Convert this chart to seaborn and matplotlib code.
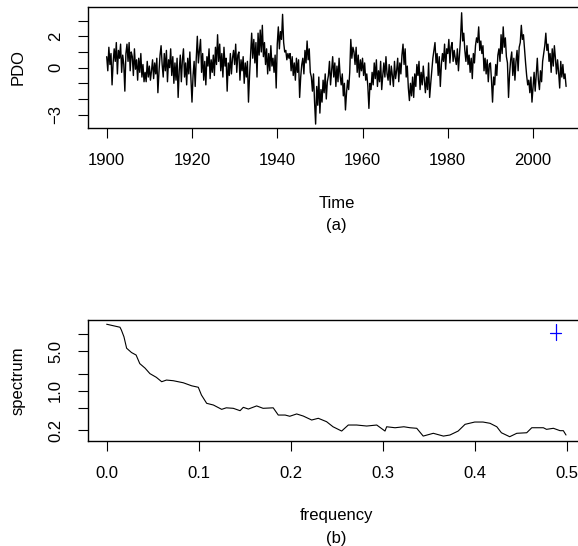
import seaborn as sns
import matplotlib.pyplot as plt
import numpy as np
import pandas as pd

# PDO index (4 values per year, 1900-2007)
pdo_start = 1900
pdo_per_year = 4
pdo = [
    0.7, -0.2, 1.3, 0.2,   0.9, -1.1, 0.3, 1.2,   0.4, 1.6, -0.4, 1.1,   0.6, 1.5, -0.3, 0.8,
    0.2, -1.5, 0.9, 1.5,   0.4, 1.6, -0.2, 1.0,   0.7, -0.5, 1.2, -0.1,  0.5, -0.8, 0.6, -0.3,
    0.9, -0.6, 0.2, -0.9,  -0.3, -0.9, 0.4, -0.6, 0.1, -0.8, -0.2, 0.5,  -0.7, 0.3, -0.4, 0.6,
    -1.6, -0.3, 0.8, 1.4,  0.2, -0.6, 0.9, -0.2,  1.1, -0.9, 0.5, 0.0,   1.2, -0.5, 0.7, -1.0,
    0.3, -0.8, 0.6, -1.9,  -0.2, 0.8, -0.9, 0.5,  1.2, -0.6, 0.3, -1.1,  0.6, -0.4, 1.0, -0.7,
    -2.2, -0.5, 0.4, -1.2, 0.6, 2.0, 0.3, 1.1,    1.8, -0.3, 0.9, -0.8,  0.4, -1.1, 0.7, 0.1,
    1.2, -0.7, 0.5, -0.3,  0.8, -0.5, 1.3, 0.2,   2.1, 0.4, 1.5, -0.2,   0.9, -0.6, 1.3, 0.1,
    0.6, -1.5, 0.3, -0.5,  0.9, -0.4, 0.6, 1.1,   0.2, 1.5, -0.3, 0.8,   1.0, -0.8, 0.5, -0.2,
    0.7, -1.0, 0.3, -0.6,  0.4, -2.2, -0.5, 0.9,  2.2, 0.6, 1.8, 0.3,    1.6, -0.6, 2.2, 0.8,
    2.4, 1.0, 2.7, 0.7,    1.6, 0.2, 1.2, -0.4,   0.9, -0.2, 1.4, 0.1,   0.6, -0.3, 0.8, -1.3,
    1.5, 2.6, 1.2, 2.3,    1.8, 3.4, 1.6, 1.0,    1.1, 0.5, 0.9, 0.6,    0.9, -0.2, 0.7, -0.5,
    0.3, -0.8, 0.6, -0.3,  0.5, -1.9, -0.6, 0.2,  0.6, -0.4, 1.1, 0.3,   1.7, 0.5, 1.2, -0.3,
    -0.6, -1.5, -0.4, -2.2, -3.6, -1.2, -2.4, -0.6, -2.9, -1.4, -2.2, -0.8, -1.6, -0.4, -2.0, -0.9,
    -0.5, 0.4, -1.1, -0.2, 0.7, -0.6, 0.3, -1.2,  0.1, -0.9, 0.6, -0.5,  -1.1, -0.4, -1.8, -1.0,
    -2.7, -1.6, -0.8, -1.4, -0.3, 1.8, 0.6, 1.3,  1.0, 0.2, 1.3, -0.3,   0.8, -0.6, 0.5, -0.2,
    0.6, -0.5, 0.3, -0.8,  -0.4, -1.2, -2.6, -1.0, -1.4, -0.3, -1.1, 0.3, -0.7, 0.5, -1.2, -0.2,
    -0.9, 0.4, -1.4, -0.5, 0.3, -0.6, 0.7, -0.4,  -0.8, 0.2, -1.1, 0.1,  -0.5, -1.2, 0.4, -0.7,
    -0.2, 0.6, -0.9, 0.3,  -0.4, 0.8, 1.5, 0.2,   1.2, -0.6, 0.1, -1.3,  -2.1, -1.0, -1.8, -0.6,
    -1.9, -0.4, -1.2, 0.2, -0.5, 0.4, -1.4, -0.3, -1.1, 0.1, -0.8, -1.6, -0.6, -1.4, 0.3, -1.9,
    -1.0, -0.2, 0.6, 1.1,  1.6, 0.3, 0.9, -0.5,   0.7, -1.2, 0.2, 0.9,   0.4, 1.5, -0.1, 1.2,
    0.9, 1.8, 0.3, 1.3,    1.6, 0.4, 1.1, 0.6,    0.2, 1.2, -0.2, 0.8,   1.9, 3.5, 1.7, 2.2,
    1.1, 0.4, 1.4, 0.2,    0.8, -0.3, 0.6, -0.7,  0.9, 0.3, 1.4, 1.9,    1.6, 2.6, 1.1, 1.7,
    0.9, 1.4, -0.2, 0.6,   -0.4, 0.5, -0.9, 0.2,  0.3, -0.8, -2.2, -0.6, -1.1, 0.2, -0.5, 0.8,
    1.2, 0.4, 2.1, 0.9,    2.6, 1.3, 1.9, 0.7,    0.3, -1.9, -0.4, 0.5,  1.0, -0.5, 0.6, -0.8,
    0.4, 1.1, -0.2, 1.3,   1.6, 2.7, 1.8, 2.1,    1.2, 0.3, -0.5, -1.1,  -0.8, -1.6, -0.6, -2.2,
    -1.2, -0.3, -1.5, -0.4, 0.6, -0.8, -1.4, -0.2, -0.9, 0.4, 0.9, 1.4,  2.2, 1.1, 1.5, 0.4,
    0.9, -0.3, 1.2, 0.1,   1.4, 0.6, -0.4, 0.5,   -0.3, -1.3, 0.4, -0.6, 0.2, -0.7, -0.4, -1.2,
]

# smoothed spectrum
freq = [0.0, 0.0145, 0.016, 0.0188, 0.0217, 0.027, 0.032, 0.036, 0.0417, 0.047,
        0.054, 0.0598, 0.065, 0.0724, 0.0833, 0.0924, 0.0996, 0.103, 0.1087, 0.116,
        0.125, 0.130, 0.1376, 0.145, 0.1485, 0.154, 0.163, 0.170, 0.181, 0.1865,
        0.194, 0.199, 0.2065, 0.2137, 0.2228, 0.23, 0.239, 0.246, 0.2554, 0.2626,
        0.2717, 0.2826, 0.2935, 0.3025, 0.3043, 0.3134, 0.323, 0.3297, 0.337, 0.344,
        0.355, 0.366, 0.373, 0.382, 0.3895, 0.40, 0.409, 0.4166, 0.424, 0.429,
        0.438, 0.4457, 0.4565, 0.462, 0.4746, 0.478, 0.4855, 0.4927, 0.4963, 0.4992]
spec = [14.8, 13.1, 11.7, 8.9, 5.6, 4.7, 4.25, 3.0, 2.5, 2.0,
        1.72, 1.44, 1.54, 1.50, 1.38, 1.22, 1.15, 0.84, 0.60, 0.56,
        0.47, 0.50, 0.49, 0.445, 0.51, 0.476, 0.54, 0.49, 0.50, 0.373,
        0.373, 0.355, 0.39, 0.358, 0.305, 0.327, 0.285, 0.232, 0.195, 0.249,
        0.249, 0.239, 0.249, 0.195, 0.232, 0.223, 0.232, 0.223, 0.218, 0.159,
        0.178, 0.159, 0.166, 0.195, 0.256, 0.281, 0.281, 0.267, 0.232, 0.182,
        0.155, 0.178, 0.182, 0.223, 0.223, 0.209, 0.218, 0.198, 0.198, 0.166]

# confidence interval / bandwidth cross
ci_freq = 0.488
ci_mid = 10.5
ci_low, ci_high = 7.8, 14.8
bandwidth = 0.0123

sns.set_style("ticks")
plt.rcParams['font.family'] = ['Liberation Sans', 'DejaVu Sans']
plt.rcParams['font.size'] = 12
plt.rcParams['text.color'] = 'black'
plt.rcParams['axes.labelcolor'] = 'black'

ts = pd.DataFrame({'Time': pdo_start + np.arange(len(pdo)) / pdo_per_year, 'PDO': pdo})
sp = pd.DataFrame({'frequency': freq, 'spectrum': spec})

fig = plt.figure(figsize=(5.78, 5.46), dpi=100)
ax1 = fig.add_axes([0.1522, 0.7656, 0.860, 0.2216])
ax2 = fig.add_axes([0.1522, 0.1929, 0.860, 0.2211])

# (a) time series
sns.lineplot(data=ts, x='Time', y='PDO', ax=ax1, color='black', lw=1.0, estimator=None, sort=False)
ax1.set_xlim(1895.6, 2012.2)
ax1.set_ylim(-3.85, 3.87)
ax1.set_xticks(range(1900, 2001, 20))
ax1.set_yticks([-3, -2, -1, 0, 1, 2, 3])
ax1.set_yticklabels(['\u22123', '', '', '0', '', '2', ''], rotation=90, va='center')
ax1.set_xlabel('Time\n(a)', linespacing=1.6, labelpad=20)
ax1.set_ylabel('PDO', labelpad=16)

# (b) spectrum
sns.lineplot(data=sp, x='frequency', y='spectrum', ax=ax2, color='black', lw=0.8, estimator=None, sort=False)
ax2.plot([ci_freq, ci_freq], [ci_low, ci_high], color='blue', lw=0.9)
ax2.plot([ci_freq - bandwidth / 2, ci_freq + bandwidth / 2], [ci_mid, ci_mid], color='blue', lw=0.9)
ax2.set_yscale('log')
ax2.set_xlim(-0.0203, 0.5199)
ax2.set_ylim(0.132, 17.6)
ax2.set_xticks([0.0, 0.1, 0.2, 0.3, 0.4, 0.5])
ax2.set_xticklabels(['0.0', '0.1', '0.2', '0.3', '0.4', '0.5'])
ax2.set_yticks([0.2, 0.5, 1, 2, 5, 10])
ax2.set_yticklabels(['0.2', '', '1.0', '', '5.0', ''], rotation=90, va='center')
ax2.minorticks_off()
ax2.set_xlabel('frequency\n(b)', linespacing=1.6, labelpad=20)
ax2.set_ylabel('spectrum', labelpad=16)

for ax in (ax1, ax2):
    for s in ax.spines.values():
        s.set_visible(True)
        s.set_linewidth(1.0)
        s.set_color('black')
    ax.tick_params(direction='out', length=7, width=0.8, pad=11, labelsize=12,
                   colors='black', labelcolor='black')

fig.savefig('out.png', dpi=100)
